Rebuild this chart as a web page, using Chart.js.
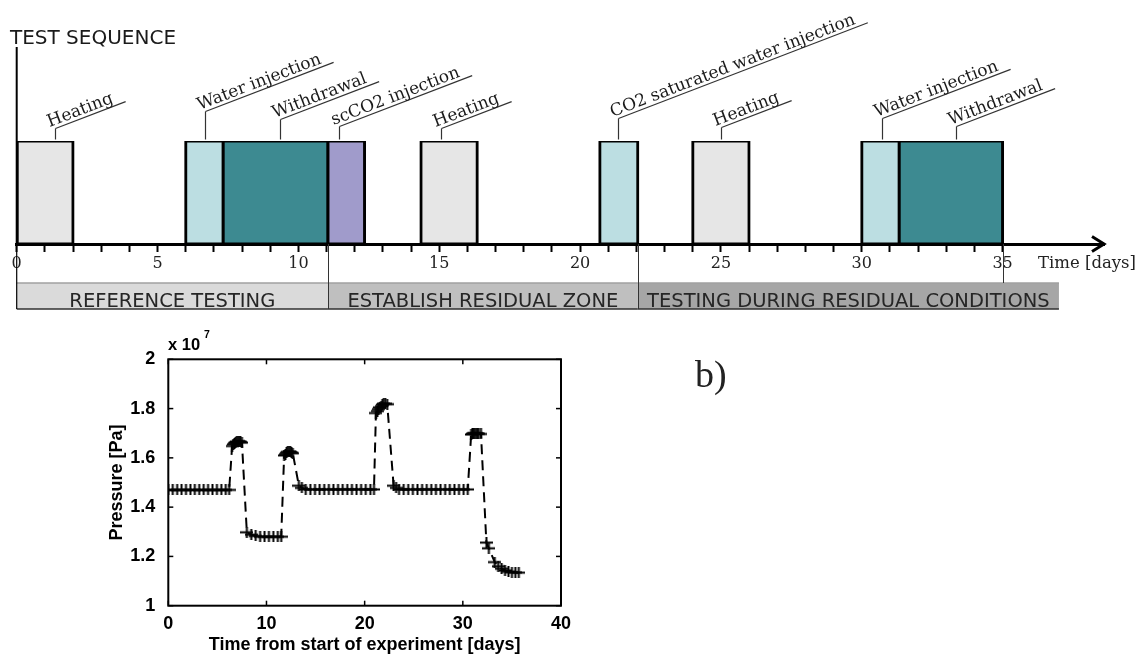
<!DOCTYPE html>
<html>
<head>
<meta charset="utf-8">
<script src="https://cdn.jsdelivr.net/npm/chart.js@4.4.1/dist/chart.umd.min.js"></script>
<style>
  html, body { margin: 0; padding: 0; background: #fff; }
  #wrap { position: relative; width: 1146px; height: 659px; overflow: hidden; background: #fff; }
  #seq { position: absolute; left: 0; top: 0; }
  #pres { position: absolute; left: 0; top: 330px; }
</style>
</head>
<body>
<div id="wrap">
  <canvas id="seq" width="1146" height="330"></canvas>
  <canvas id="pres" width="800" height="329"></canvas>
</div>
<script>
// ---- test sequence (days) ----
var stepNames = ['Heating', 'Water injection', 'Withdrawal', 'scCO2 injection', 'Heating',
                 'CO2 saturated water injection', 'Heating', 'Water injection', 'Withdrawal'];
var stepStart = [0, 6, 7.33, 11.05, 14.35, 20.7, 24, 30, 31.33];
var stepEnd   = [2, 7.33, 11.05, 12.35, 16.35, 22.05, 26, 31.33, 35];
var labelAt   = [1.35, 6.7, 9.35, 11.45, 15.05, 21.35, 25.0, 30.72, 33.35];

var phaseNames = ['REFERENCE TESTING', 'ESTABLISH RESIDUAL ZONE', 'TESTING DURING RESIDUAL CONDITIONS'];
var phaseStart = [0, 11.05, 22.05];
var phaseEnd   = [11.05, 22.05, 37];

var dayTicks = [0, 5, 10, 15, 20, 25, 30, 35];

// ---- pressure record ----
var timeDays = [
  0, 0.45, 0.9, 1.35, 1.8, 2.25, 2.7, 3.15, 3.6, 4.05, 4.5, 4.95, 5.4, 5.85, 6.2,
  6.5, 6.62, 6.74, 6.86, 6.98, 7.1, 7.22, 7.34, 7.5,
  8.0, 8.45, 8.9, 9.35, 9.8, 10.25, 10.7, 11.15, 11.5,
  11.8, 11.93, 12.05, 12.17, 12.3, 12.42, 12.55, 12.68,
  13.3, 13.6, 14.0, 14.47, 14.94, 15.41, 15.88, 16.35, 16.82, 17.29, 17.76, 18.23, 18.7, 19.17, 19.64, 20.11, 20.58, 20.95,
  21.15, 21.3, 21.42, 21.55, 21.68, 21.8, 21.95, 22.1, 22.3,
  22.95, 23.2, 23.5, 23.97, 24.44, 24.91, 25.38, 25.85, 26.32, 26.79, 27.26, 27.73, 28.2, 28.67, 29.14, 29.61, 30.08, 30.5,
  30.85, 30.98, 31.1, 31.22, 31.35, 31.48, 31.62, 31.85,
  32.4, 32.65, 33.25, 33.6, 33.95, 34.3, 34.65, 35.0, 35.35, 35.7
];
var pressurePa = [
  14.7e6, 14.7e6, 14.7e6, 14.7e6, 14.7e6, 14.7e6, 14.7e6, 14.7e6, 14.7e6, 14.7e6, 14.7e6, 14.7e6, 14.7e6, 14.7e6, 14.7e6,
  16.48e6, 16.55e6, 16.6e6, 16.63e6, 16.66e6, 16.68e6, 16.66e6, 16.65e6, 16.62e6,
  12.98e6, 12.88e6, 12.83e6, 12.8e6, 12.8e6, 12.8e6, 12.8e6, 12.8e6, 12.8e6,
  16.1e6, 16.15e6, 16.2e6, 16.24e6, 16.26e6, 16.24e6, 16.21e6, 16.19e6,
  14.87e6, 14.78e6, 14.72e6, 14.72e6, 14.72e6, 14.72e6, 14.72e6, 14.72e6, 14.72e6, 14.72e6, 14.72e6, 14.72e6, 14.72e6, 14.72e6, 14.72e6, 14.72e6, 14.72e6, 14.72e6,
  17.82e6, 17.9e6, 17.98e6, 18.05e6, 18.1e6, 18.16e6, 18.2e6, 18.2e6, 18.18e6,
  14.87e6, 14.78e6, 14.72e6, 14.72e6, 14.72e6, 14.72e6, 14.72e6, 14.72e6, 14.72e6, 14.72e6, 14.72e6, 14.72e6, 14.72e6, 14.72e6, 14.72e6, 14.72e6, 14.72e6, 14.72e6,
  16.95e6, 16.98e6, 17.0e6, 17.0e6, 17.0e6, 16.99e6, 16.98e6, 16.97e6,
  12.56e6, 12.33e6, 11.77e6, 11.6e6, 11.5e6, 11.43e6, 11.38e6, 11.36e6, 11.35e6, 11.34e6
];
var timeTicks = [0, 10, 20, 30, 40];
var pressureTicks = [1, 1.2, 1.4, 1.6, 1.8, 2];   // x 10^7

// colours per step type
var stepColors = {
  'Heating': '#e6e6e6',
  'Water injection': '#bcdee2',
  'Withdrawal': '#3d8a91',
  'scCO2 injection': '#a09bcb',
  'CO2 saturated water injection': '#bcdee2'
};
var leaderH = [11, 28, 20, 13, 11, 21, 12, 21, 13];   // px, height of the leader above a box
var bandColors = ['#dadada', '#bfbfbf', '#a6a6a6'];

function seg(c, x1, y1, x2, y2) {
  c.beginPath(); c.moveTo(x1, y1); c.lineTo(x2, y2); c.stroke();
}

// decorations of the test sequence: labels, arrow, phase band
var seqDecor = {
  id: 'seqDecor',
  afterDraw: function (chart) {
    var c = chart.ctx, xs = chart.scales.x, a = chart.chartArea;
    var axisY = a.bottom, boxTop = a.top;
    var x0 = xs.getPixelForValue(0);
    var bandTop = 283, bandBot = 309;
    c.save();

    // phase band
    for (var i = 0; i < phaseNames.length; i++) {
      var p1 = xs.getPixelForValue(phaseStart[i]), p2 = xs.getPixelForValue(phaseEnd[i]);
      c.fillStyle = bandColors[i];
      c.fillRect(p1, bandTop, p2 - p1, bandBot - bandTop);
      c.strokeStyle = '#a0a0a0'; c.lineWidth = 1.5;
      seg(c, p1, bandTop, p2, bandTop);
      c.strokeStyle = '#303030'; c.lineWidth = 1.5;
      seg(c, p1, bandBot, p2, bandBot);
      c.fillStyle = '#262626';
      c.font = '19.5px "DejaVu Sans"';
      c.textAlign = 'center'; c.textBaseline = 'alphabetic';
      c.fillText(phaseNames[i], (p1 + p2) / 2, 306.5);
    }
    // divider lines
    c.strokeStyle = '#333'; c.lineWidth = 1;
    for (var k = 1; k < phaseStart.length; k++) {
      var px = Math.round(xs.getPixelForValue(phaseStart[k])) + 0.5;
      seg(c, px, axisY, px, bandBot);
    }
    var p35 = Math.round(xs.getPixelForValue(35)) + 0.5;
    seg(c, p35, axisY, p35, bandTop);

    // left vertical line
    c.strokeStyle = '#000'; c.lineWidth = 2;
    seg(c, x0, 47, x0, axisY);
    c.lineWidth = 1.2;
    seg(c, x0, axisY, x0, bandBot);

    // arrow head
    c.lineWidth = 3;
    c.beginPath();
    c.moveTo(a.right - 12, axisY - 7.5); c.lineTo(a.right, axisY); c.lineTo(a.right - 12, axisY + 7.5);
    c.stroke();
    seg(c, a.right - 4, axisY, a.right, axisY);

    // titles
    c.fillStyle = '#1a1a1a';
    c.font = '20px "DejaVu Sans"';
    c.textAlign = 'left'; c.textBaseline = 'alphabetic';
    c.fillText('TEST SEQUENCE', 10, 44);
    c.fillStyle = '#222';
    c.font = '16.5px "DejaVu Serif"';
    c.textBaseline = 'middle';
    c.fillText('Time [days]', 1038, 264);

    // step labels with leaders
    var ang = 21 * Math.PI / 180;
    c.font = '17px "DejaVu Serif"';
    c.textBaseline = 'alphabetic';
    for (var j = 0; j < stepNames.length; j++) {
      var lx = Math.round(xs.getPixelForValue(labelAt[j])) + 0.5;
      var ly = boxTop - 1.5 - leaderH[j];
      c.strokeStyle = '#333'; c.lineWidth = 1.2;
      seg(c, lx, boxTop - 1.5, lx, ly);
      c.save();
      c.translate(lx, ly);
      c.rotate(-ang);
      var w = c.measureText(stepNames[j]).width;
      seg(c, 0, 0, w + 6, 0);
      c.fillStyle = '#1a1a1a';
      c.fillText(stepNames[j], -5, -3.5);
      c.restore();
    }
    c.restore();
  }
};

new Chart(document.getElementById('seq'), {
  type: 'bar',
  data: {
    labels: ['seq'],
    datasets: [{
      data: stepStart.map(function (s, i) { return { x: [s, stepEnd[i]], y: 'seq' }; }),
      backgroundColor: stepNames.map(function (n) { return stepColors[n]; }),
      borderColor: '#000',
      borderWidth: 3,
      borderSkipped: false,
      inflateAmount: 1.5,
      barPercentage: 1,
      categoryPercentage: 1
    }]
  },
  options: {
    indexAxis: 'y',
    responsive: false,
    animation: false,
    layout: { padding: { left: 16.7, right: 42, top: 141, bottom: 10 } },
    plugins: { legend: { display: false }, tooltip: { enabled: false } },
    scales: {
      y: { display: false },
      x: {
        type: 'linear', min: 0, max: 38.6,
        afterFit: function (s) { s.height = 76; },
        afterBuildTicks: function (s) {
          var t = [];
          for (var v = 0; v <= 35; v++) t.push({ value: v });
          s.ticks = t;
        },
        ticks: {
          autoSkip: false, maxRotation: 0, padding: 2.4, color: '#222',
          font: { family: 'DejaVu Serif', size: 16 },
          callback: function (v) { return dayTicks.indexOf(v) >= 0 ? String(v) : ''; }
        },
        grid: { drawOnChartArea: false, tickLength: 8, tickWidth: 2, tickColor: '#000' },
        border: { color: '#000', width: 3 }
      }
    }
  },
  plugins: [seqDecor]
});

// ---- pressure plot ----
var plusMark = document.createElement('canvas');
plusMark.width = 13; plusMark.height = 11;
(function () {
  var pc = plusMark.getContext('2d');
  pc.strokeStyle = '#000'; pc.lineWidth = 2;
  pc.beginPath();
  pc.moveTo(0, 5.5); pc.lineTo(13, 5.5);
  pc.moveTo(6.5, 0); pc.lineTo(6.5, 11);
  pc.stroke();
})();

var boxDecor = {
  id: 'boxDecor',
  afterDraw: function (chart) {
    var c = chart.ctx, a = chart.chartArea, xs = chart.scales.x, ys = chart.scales.y;
    c.save();
    c.strokeStyle = '#000'; c.lineWidth = 2;
    c.strokeRect(a.left, a.top, a.right - a.left, a.bottom - a.top);
    c.lineWidth = 1.5;
    var tl = 5;
    timeTicks.forEach(function (v) {
      var x = xs.getPixelForValue(v);
      seg(c, x, a.bottom, x, a.bottom - tl);
      seg(c, x, a.top, x, a.top + tl);
    });
    pressureTicks.forEach(function (v) {
      var y = ys.getPixelForValue(v * 1e7);
      seg(c, a.left, y, a.left + tl, y);
      seg(c, a.right, y, a.right - tl, y);
    });
    c.fillStyle = '#000';
    c.textAlign = 'center'; c.textBaseline = 'middle';
    c.font = 'bold 18px "Liberation Sans"';
    c.fillText('Time from start of experiment [days]', (a.left + a.right) / 2, 315);
    c.save();
    c.translate(116.7, (a.top + a.bottom) / 2);
    c.rotate(-Math.PI / 2);
    c.fillText('Pressure [Pa]', 0, 0);
    c.restore();
    c.textAlign = 'left'; c.textBaseline = 'alphabetic';
    c.font = 'bold 16.5px "Liberation Sans"';
    c.fillText('x 10', 168, 20);
    c.font = 'bold 10.5px "Liberation Sans"';
    c.fillText('7', 204, 8);
    c.fillStyle = '#222';
    c.font = '38px "Liberation Serif"';
    c.fillText('b)', 695, 56.7);
    c.restore();
  }
};

new Chart(document.getElementById('pres'), {
  type: 'line',
  data: {
    datasets: [{
      data: timeDays.map(function (t, i) { return { x: t, y: pressurePa[i] }; }),
      borderColor: '#000',
      borderWidth: 2,
      borderDash: [10, 6],
      pointStyle: plusMark,
      pointRadius: 6,
      tension: 0,
      fill: false
    }]
  },
  options: {
    responsive: false,
    animation: false,
    layout: { padding: { left: 0, right: 239, top: 29.3, bottom: 0 } },
    plugins: { legend: { display: false }, tooltip: { enabled: false } },
    scales: {
      x: {
        type: 'linear', min: 0, max: 40,
        afterFit: function (s) { s.height = 53.3; },
        afterBuildTicks: function (s) { s.ticks = timeTicks.map(function (v) { return { value: v }; }); },
        ticks: { padding: 0, color: '#000', font: { family: 'Liberation Sans', size: 18, weight: 'bold' } },
        grid: { display: false },
        border: { display: false }
      },
      y: {
        type: 'linear', min: 1e7, max: 2e7,
        afterFit: function (s) { s.width = 168.3; },
        afterBuildTicks: function (s) { s.ticks = pressureTicks.map(function (v) { return { value: v * 1e7 }; }); },
        ticks: {
          padding: 5, color: '#000', font: { family: 'Liberation Sans', size: 18, weight: 'bold' },
          callback: function (v, i) { return String(pressureTicks[i]); }
        },
        grid: { display: false },
        border: { display: false }
      }
    }
  },
  plugins: [boxDecor]
});
</script>
</body>
</html>
